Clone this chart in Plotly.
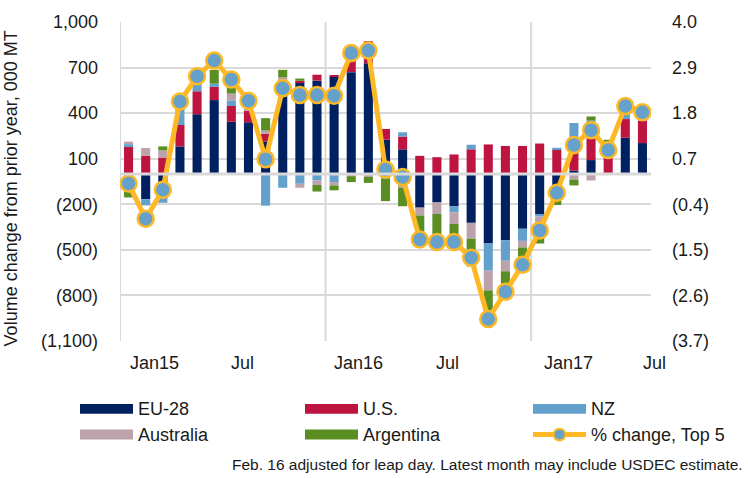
import plotly.graph_objects as go

# ---------------- data (Jan 2015 .. Jul 2017) ----------------
months = ["Jan15", "Feb15", "Mar15", "Apr15", "May15", "Jun15", "Jul15", "Aug15", "Sep15", "Oct15", "Nov15", "Dec15",
          "Jan16", "Feb16", "Mar16", "Apr16", "May16", "Jun16", "Jul16", "Aug16", "Sep16", "Oct16", "Nov16", "Dec16",
          "Jan17", "Feb17", "Mar17", "Apr17", "May17", "Jun17", "Jul17"]

eu28 = [-75, -167, -160, 181, 393, 486, 343, 340, 214, 599, 603, 614,
        641, 670, 728, 225, 162, -222, -188, -214, -322, -458, -436, -361,
        -264, -140, 22, 91, 0, 238, 203]
us = [183, 119, 108, 141, 151, 87, 104, 75, 50, 21, 10, 39,
      10, 80, 145, 71, 84, 119, 110, 128, 162, 194, 184, 184,
      200, 162, 157, 200, 190, 123, 146]
nz = [13, -40, -30, 115, 54, 21, 37, 0, -209, -91, -65, -43,
      -54, 0, 0, -30, 28, 0, 0, -39, 30, -179, -136, -80,
      -17, 10, 156, 60, 20, 40, 20]
australia = [16, 52, 47, 0, 0, 0, 45, 20, 21, 15, -26, -30,
             -22, -15, -20, 0, -90, -52, -76, -76, -104, -130, -69, -43,
             -70, -25, -37, -43, 0, 0, 0]
argentina = [-80, 0, 26, 0, 0, 91, 58, 0, 82, 50, 15, -43,
             -32, -39, -39, -149, -123, -150, -164, -106, -183, -242, -130, -168,
             -107, -40, -39, 27, 15, 0, 0]
pct_change = [0.10, -0.75, -0.05, 2.08, 2.69, 3.07, 2.61, 2.10, 0.69, 2.40, 2.24, 2.24,
              2.22, 3.25, 3.31, 0.44, 0.26, -1.25, -1.31, -1.31, -1.69, -3.17, -2.51, -1.86,
              -1.03, -0.12, 1.03, 1.39, 0.91, 1.97, 1.82]

x_tick_labels = ["Jan15", "Jul", "Jan16", "Jul", "Jan17", "Jul"]
x_tick_pos = [1.49, 6.64, 13.45, 18.63, 25.7, 30.7]
left_ticks = [1000, 700, 400, 100, -200, -500, -800, -1100]
left_tick_text = ["1,000", "700", "400", "100", "(200)", "(500)", "(800)", "(1,100)"]
right_ticks = [4.0, 2.9, 1.8, 0.7, -0.4, -1.5, -2.6, -3.7]
right_tick_text = ["4.0", "2.9", "1.8", "0.7", "(0.4)", "(1.5)", "(2.6)", "(3.7)"]

series = [("EU-28", eu28, "#002060"), ("U.S.", us, "#BE1440"), ("NZ", nz, "#63A0CB"),
          ("Australia", australia, "#BCA2AA"), ("Argentina", argentina, "#5A8E22")]
line_name = "% change, Top 5"
LINE_COLOR = "#FDB825"
MARKER_COLOR = "#65A1CB"

# ---------------- layout constants ----------------
W, H = 748, 478
L, R, T, B = 120, 97, 17, 137
PW, PH = W - L - R, H - T - B
N = len(months)
FONT = "Liberation Sans, Arial, sans-serif"
TXT = "#1a1a1a"
GRID = "#D9D9D9"
FS = 18


def px(xp):
    return (xp - L) / PW


def py(yp):
    return (H - B - yp) / PH


def idx_paper(pos):
    return (pos + 0.5) / N


x = list(range(N))
fig = go.Figure()
for name, vals, col in series:
    fig.add_trace(go.Bar(x=x, y=vals, name=name, marker=dict(color=col, line=dict(width=0)),
                         customdata=months, hovertemplate="%{customdata}: %{y}<extra>" + name + "</extra>"))

fig.add_trace(go.Scatter(x=x, y=pct_change, name=line_name, yaxis="y2", mode="lines+markers",
                         line=dict(color=LINE_COLOR, width=5),
                         marker=dict(size=16, color=MARKER_COLOR, line=dict(color=LINE_COLOR, width=2.5)),
                         customdata=months, hovertemplate="%{customdata}: %{y}<extra></extra>"))

shapes = []
for xv in [-0.5, 11.5, 23.5]:
    shapes.append(dict(type="line", xref="x", yref="paper", x0=xv, x1=xv, y0=0, y1=1,
                       line=dict(color=GRID, width=2), layer="below"))
shapes.append(dict(type="line", xref="paper", yref="y", x0=0, x1=1, y0=0, y1=0,
                   line=dict(color=GRID, width=3), layer="above"))

annotations = []
for lab, pos in zip(x_tick_labels, x_tick_pos):
    annotations.append(dict(text=lab, x=idx_paper(pos), xref="paper", y=py(363), yref="paper", showarrow=False,
                            xanchor="center", yanchor="middle", font=dict(size=FS, color=TXT, family=FONT)))
annotations.append(dict(text="Volume change from prior year, 000 MT", textangle=-90, x=px(11), y=py(186),
                        xref="paper", yref="paper", showarrow=False, xanchor="center", yanchor="middle",
                        font=dict(size=FS, color=TXT, family=FONT)))

cols = [80, 305, 533]
rows = [410, 436]
sw = 53
entries = [(s[0], s[2]) for s in series] + [(line_name, None)]
for i, (name, col) in enumerate(entries):
    cx = cols[i % 3]
    cy = rows[i // 3]
    if col is not None:
        shapes.append(dict(type="rect", xref="paper", yref="paper", x0=px(cx), x1=px(cx + sw),
                           y0=py(cy + 5), y1=py(cy - 5), fillcolor=col, line=dict(width=0)))
    else:
        shapes.append(dict(type="line", xref="paper", yref="paper", x0=px(cx), x1=px(cx + sw),
                           y0=py(cy), y1=py(cy), line=dict(color=LINE_COLOR, width=5)))
        shapes.append(dict(type="circle", xref="paper", yref="paper", x0=px(cx + sw / 2 - 6), x1=px(cx + sw / 2 + 6),
                           y0=py(cy + 6), y1=py(cy - 6), fillcolor=MARKER_COLOR, line=dict(color=LINE_COLOR, width=2)))
    annotations.append(dict(text=name, x=px(cx + sw + 3), y=py(cy), xref="paper", yref="paper", showarrow=False,
                            xanchor="left", yanchor="middle", font=dict(size=FS, color=TXT, family=FONT)))

annotations.append(dict(text="Feb. 16 adjusted for leap day. Latest month may include USDEC estimate.",
                        x=px(745), y=py(466), xref="paper", yref="paper", showarrow=False,
                        xanchor="right", yanchor="middle", font=dict(size=15.5, color=TXT, family=FONT)))

fig.update_layout(
    width=W, height=H, margin=dict(l=L, r=R, t=T, b=B, pad=0),
    paper_bgcolor="white", plot_bgcolor="white",
    barmode="relative", bargap=0.47, showlegend=False,
    font=dict(family=FONT, color=TXT, size=FS),
    xaxis=dict(range=[-0.5, 30.5], showgrid=False, zeroline=False, showline=False,
               showticklabels=False, ticks=""),
    yaxis=dict(range=[-1100, 1000], tickvals=left_ticks, ticktext=left_tick_text,
               showgrid=True, gridcolor=GRID, gridwidth=2, zeroline=False, showline=False,
               ticks="", ticklabelstandoff=21, tickfont=dict(size=FS, color=TXT, family=FONT)),
    yaxis2=dict(range=[-3.7, 4.0], overlaying="y", side="right", tickvals=right_ticks, ticktext=right_tick_text,
                showgrid=False, zeroline=False, showline=False, ticks="", ticklabelstandoff=20,
                tickfont=dict(size=FS, color=TXT, family=FONT)),
    shapes=shapes, annotations=annotations,
)

fig.write_html("out.html", config={"displayModeBar": False},
               post_script="document.body.style.margin='0';document.body.style.padding='0';"
                           "document.documentElement.style.overflow='hidden';")
